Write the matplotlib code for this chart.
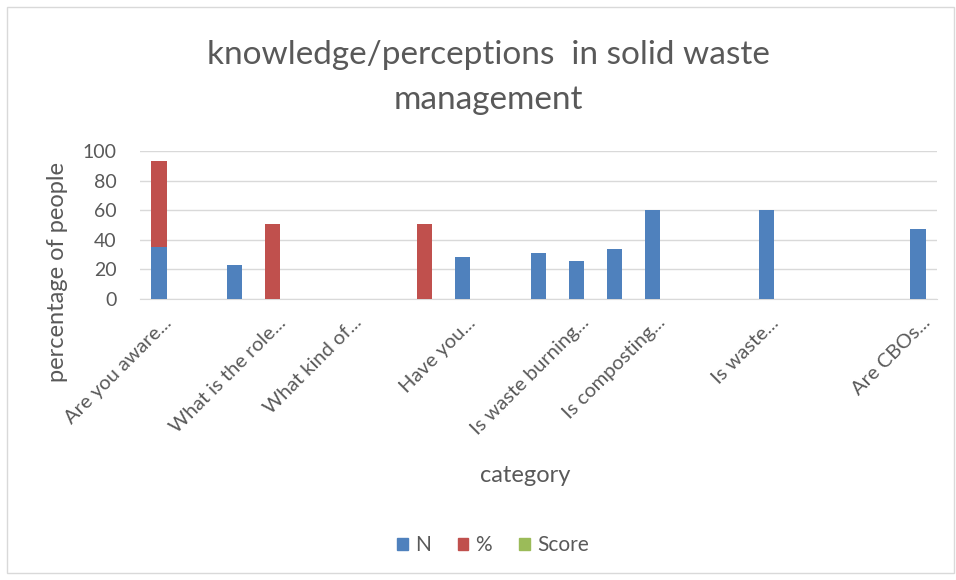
import matplotlib.pyplot as plt
import matplotlib.transforms as mtransforms
from matplotlib.patches import Rectangle, Patch
import numpy as np

# 21 question slots; only some carry a (truncated) label
categories = ["Are you aware...", "", "", "What is the role...", "", "What kind of...",
              "", "", "Have you...", "", "", "Is waste burning...", "", "Is composting...",
              "", "", "Is waste...", "", "", "", "Are CBOs..."]
n_vals = [35, 0, 23, 0, 0, 0, 0, 0, 28.5, 0, 31, 26, 34, 60, 0, 0, 60, 0, 0, 0, 47.5]
pct_vals = [58.5, 0, 0, 51, 0, 0, 0, 51, 0, 0, 0, 0, 0, 0, 0, 0, 0, 0, 0, 0, 0]
score_vals = [0] * 21
yticks = [0, 20, 40, 60, 80, 100]

blue = "#4F81BD"
red = "#C0504D"
green = "#9BBB59"
txt = "#595959"
font = "Lato"

fig = plt.figure(figsize=(9.56, 5.8), dpi=100)
fig.patches.append(Rectangle((7 / 956, 7 / 580), 947 / 956, 566 / 580, transform=fig.transFigure,
                             fill=False, edgecolor="#d9d9d9", linewidth=1))

ax = fig.add_axes([140 / 956, 1 - 299 / 580, 797 / 956, 148 / 580])
x = np.arange(len(categories))
ax.bar(x, n_vals, width=0.4, color=blue, zorder=3)
ax.bar(x, pct_vals, width=0.4, bottom=n_vals, color=red, zorder=3)
ax.bar(x, score_vals, width=0.4, bottom=np.add(n_vals, pct_vals), color=green, zorder=3)

ax.set_xlim(-0.5, len(categories) - 0.5)
ax.set_ylim(0, 100)
ax.set_yticks(yticks)
ax.grid(axis="y", color="#d9d9d9", linewidth=1, zorder=0)
for s in ["top", "right", "left"]:
    ax.spines[s].set_visible(False)
ax.spines["bottom"].set_color("#d9d9d9")
ax.tick_params(length=0)
ax.tick_params(axis="y", labelsize=14, labelcolor=txt, pad=17)
for lab in ax.get_yticklabels():
    lab.set_fontfamily(font)

ax.set_xticks(x)
ax.set_xticklabels(categories, rotation=45, ha="right", va="center",
                   rotation_mode="anchor", fontsize=14.5, color=txt, family=font)
offset = mtransforms.ScaledTranslation(10 / 100, -16 / 100, fig.dpi_scale_trans)
for lab in ax.get_xticklabels():
    lab.set_transform(lab.get_transform() + offset)

fig.text(488 / 956, 1 - 55 / 580, "knowledge/perceptions  in solid waste", ha="center", va="center",
         fontsize=24, color=txt, family=font)
fig.text(488 / 956, 1 - 100 / 580, "management", ha="center", va="center",
         fontsize=24, color=txt, family=font)
fig.text(58 / 956, 1 - 272 / 580, "percentage of people", rotation=90, ha="center", va="center",
         fontsize=17, color=txt, family=font)
fig.text(525 / 956, 1 - 475 / 580, "category", ha="center", va="center",
         fontsize=17, color=txt, family=font)

handles = [Patch(color=blue, label="N"), Patch(color=red, label="%"), Patch(color=green, label="Score")]
leg = fig.legend(handles=handles, loc="center", bbox_to_anchor=(493 / 956, 1 - 545 / 580), ncol=3,
                 frameon=False, handlelength=0.5, handleheight=0.5, handletextpad=0.35,
                 columnspacing=1.3, prop={"family": font, "size": 15})
for t in leg.get_texts():
    t.set_color(txt)

fig.savefig("out.png", dpi=100)
